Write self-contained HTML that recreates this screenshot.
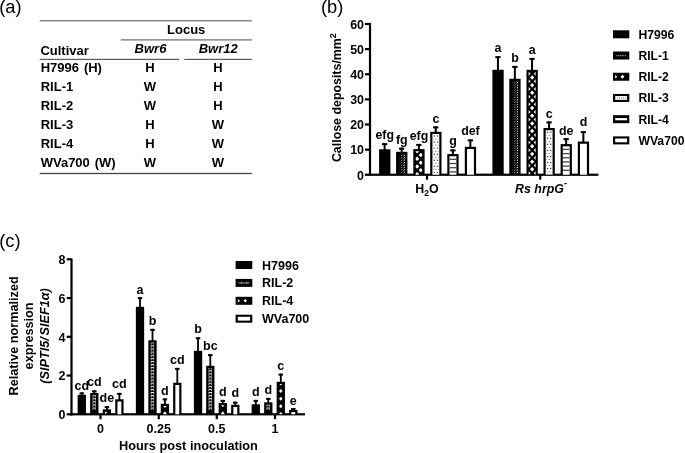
<!DOCTYPE html>
<html><head><meta charset="utf-8"><title>Figure</title>
<style>
html,body{margin:0;padding:0;background:#fff;}
body{width:685px;height:453px;overflow:hidden;font-family:"Liberation Sans",sans-serif;}
svg{display:block;will-change:transform;}
</style></head><body>
<svg width="685" height="453" viewBox="0 0 685 453">
<rect width="685" height="453" fill="#fff"/>
<g font-family='"Liberation Sans", sans-serif' fill="#000">
<text x="-0.8" y="12.6" font-size="18.3" text-anchor="start" font-weight="normal" font-style="normal" >(a)</text>
<text x="320.9" y="12.5" font-size="18.3" text-anchor="start" font-weight="normal" font-style="normal" >(b)</text>
<text x="-0.8" y="246.5" font-size="18.3" text-anchor="start" font-weight="normal" font-style="normal" >(c)</text>
<rect x="39.7" y="20.20" width="212.10" height="1.2" fill="#6a6a6a"/>
<rect x="120.8" y="39.30" width="131.00" height="1.2" fill="#6a6a6a"/>
<rect x="39.7" y="58.80" width="139.50" height="1.2" fill="#5a5a5a"/>
<rect x="184.3" y="58.80" width="67.50" height="1.2" fill="#5a5a5a"/>
<rect x="39.7" y="172.85" width="212.10" height="1.3" fill="#444"/>
<text x="186.2" y="34" font-size="13" text-anchor="middle" font-weight="bold" font-style="normal" >Locus</text>
<text x="40.4" y="55.0" font-size="13" text-anchor="start" font-weight="bold" font-style="normal" >Cultivar</text>
<text x="150.5" y="53.3" font-size="13" text-anchor="middle" font-weight="bold" font-style="italic" >Bwr6</text>
<text x="218.2" y="53.3" font-size="13" text-anchor="middle" font-weight="bold" font-style="italic" >Bwr12</text>
<text x="40.7" y="71.9" font-size="13" text-anchor="start" font-weight="bold" font-style="normal" style="word-spacing:1.3px">H7996 (H)</text>
<text x="150" y="71.9" font-size="13" text-anchor="middle" font-weight="bold" font-style="normal" >H</text>
<text x="218" y="71.9" font-size="13" text-anchor="middle" font-weight="bold" font-style="normal" >H</text>
<text x="40.7" y="91.0" font-size="13" text-anchor="start" font-weight="bold" font-style="normal" style="word-spacing:1.3px">RIL-1</text>
<text x="150" y="91.0" font-size="13" text-anchor="middle" font-weight="bold" font-style="normal" >W</text>
<text x="218" y="91.0" font-size="13" text-anchor="middle" font-weight="bold" font-style="normal" >H</text>
<text x="40.7" y="110.1" font-size="13" text-anchor="start" font-weight="bold" font-style="normal" style="word-spacing:1.3px">RIL-2</text>
<text x="150" y="110.1" font-size="13" text-anchor="middle" font-weight="bold" font-style="normal" >W</text>
<text x="218" y="110.1" font-size="13" text-anchor="middle" font-weight="bold" font-style="normal" >H</text>
<text x="40.7" y="129.1" font-size="13" text-anchor="start" font-weight="bold" font-style="normal" style="word-spacing:1.3px">RIL-3</text>
<text x="150" y="129.1" font-size="13" text-anchor="middle" font-weight="bold" font-style="normal" >H</text>
<text x="218" y="129.1" font-size="13" text-anchor="middle" font-weight="bold" font-style="normal" >W</text>
<text x="40.7" y="148.2" font-size="13" text-anchor="start" font-weight="bold" font-style="normal" style="word-spacing:1.3px">RIL-4</text>
<text x="150" y="148.2" font-size="13" text-anchor="middle" font-weight="bold" font-style="normal" >H</text>
<text x="218" y="148.2" font-size="13" text-anchor="middle" font-weight="bold" font-style="normal" >W</text>
<text x="40.7" y="167.4" font-size="13" text-anchor="start" font-weight="bold" font-style="normal" style="word-spacing:1.3px">WVa700 (W)</text>
<text x="150" y="167.4" font-size="13" text-anchor="middle" font-weight="bold" font-style="normal" >W</text>
<text x="218" y="167.4" font-size="13" text-anchor="middle" font-weight="bold" font-style="normal" >W</text>
<rect x="368.9" y="22.9" width="2.2" height="152.95" fill="#000"/>
<rect x="368.9" y="173.65" width="229.50" height="2.2" fill="#000"/>
<rect x="364.9" y="173.65" width="5" height="2.2" fill="#000"/>
<text x="364.0" y="179.55" font-size="12.4" text-anchor="end" font-weight="bold" font-style="normal" >0</text>
<rect x="364.9" y="148.53" width="5" height="2.2" fill="#000"/>
<text x="364.0" y="154.43" font-size="12.4" text-anchor="end" font-weight="bold" font-style="normal" >10</text>
<rect x="364.9" y="123.40" width="5" height="2.2" fill="#000"/>
<text x="364.0" y="129.30" font-size="12.4" text-anchor="end" font-weight="bold" font-style="normal" >20</text>
<rect x="364.9" y="98.28" width="5" height="2.2" fill="#000"/>
<text x="364.0" y="104.17" font-size="12.4" text-anchor="end" font-weight="bold" font-style="normal" >30</text>
<rect x="364.9" y="73.15" width="5" height="2.2" fill="#000"/>
<text x="364.0" y="79.05" font-size="12.4" text-anchor="end" font-weight="bold" font-style="normal" >40</text>
<rect x="364.9" y="48.02" width="5" height="2.2" fill="#000"/>
<text x="364.0" y="53.92" font-size="12.4" text-anchor="end" font-weight="bold" font-style="normal" >50</text>
<rect x="364.9" y="22.90" width="5" height="2.2" fill="#000"/>
<text x="364.0" y="28.80" font-size="12.4" text-anchor="end" font-weight="bold" font-style="normal" >60</text>
<rect x="425.9" y="174.75" width="2.2" height="4.9" fill="#000"/>
<rect x="539.15" y="174.75" width="2.2" height="4.9" fill="#000"/>
<text x="427" y="193" font-size="12.4" text-anchor="middle" font-weight="bold" font-style="normal" >H<tspan font-size="8.5" dy="2.6">2</tspan><tspan dy="-2.6">O</tspan></text>
<text x="541" y="192.6" font-size="12.4" text-anchor="middle" font-weight="bold" font-style="italic" >Rs hrpG<tspan font-size="9" dy="-6.6">-</tspan></text>
<text transform="translate(340.7,97.6) rotate(-90)" font-size="12.4" font-weight="bold" text-anchor="middle">Callose deposits/mm<tspan font-size="9" dy="-4.6">2</tspan></text>
<rect x="383.65" y="143.15" width="2.0" height="7.15" fill="#000"/>
<rect x="382.00" y="143.15" width="5.3" height="2.0" fill="#000"/>
<rect x="379.10" y="149.30" width="11.30" height="25.45" fill="#000"/>
<text x="384.75" y="139.2" font-size="12.4" text-anchor="middle" font-weight="bold" font-style="normal" >efg</text>
<rect x="400.65" y="147.65" width="2.0" height="5.15" fill="#000"/>
<rect x="399.00" y="147.65" width="5.3" height="2.0" fill="#000"/>
<rect x="396.10" y="151.80" width="11.30" height="22.95" fill="#000"/>
<clipPath id="c1"><rect x="398.30" y="154.00" width="6.90" height="20.75"/></clipPath>
<g clip-path="url(#c1)">
<path d="M398.40 172.90 L399.90 171.80" stroke="#555" stroke-width="0.5" fill="none"/>
<path d="M400.90 172.90 L402.40 171.80" stroke="#bbb" stroke-width="0.75" fill="none"/>
<path d="M403.55 172.90 L405.05 171.80" stroke="#fff" stroke-width="0.95" fill="none"/>
<path d="M398.40 170.48 L399.90 169.38" stroke="#555" stroke-width="0.5" fill="none"/>
<path d="M400.90 170.48 L402.40 169.38" stroke="#bbb" stroke-width="0.75" fill="none"/>
<path d="M403.55 170.48 L405.05 169.38" stroke="#fff" stroke-width="0.95" fill="none"/>
<path d="M398.40 168.06 L399.90 166.96" stroke="#555" stroke-width="0.5" fill="none"/>
<path d="M400.90 168.06 L402.40 166.96" stroke="#bbb" stroke-width="0.75" fill="none"/>
<path d="M403.55 168.06 L405.05 166.96" stroke="#fff" stroke-width="0.95" fill="none"/>
<path d="M398.40 165.64 L399.90 164.54" stroke="#555" stroke-width="0.5" fill="none"/>
<path d="M400.90 165.64 L402.40 164.54" stroke="#bbb" stroke-width="0.75" fill="none"/>
<path d="M403.55 165.64 L405.05 164.54" stroke="#fff" stroke-width="0.95" fill="none"/>
<path d="M398.40 163.22 L399.90 162.12" stroke="#555" stroke-width="0.5" fill="none"/>
<path d="M400.90 163.22 L402.40 162.12" stroke="#bbb" stroke-width="0.75" fill="none"/>
<path d="M403.55 163.22 L405.05 162.12" stroke="#fff" stroke-width="0.95" fill="none"/>
<path d="M398.40 160.80 L399.90 159.70" stroke="#555" stroke-width="0.5" fill="none"/>
<path d="M400.90 160.80 L402.40 159.70" stroke="#bbb" stroke-width="0.75" fill="none"/>
<path d="M403.55 160.80 L405.05 159.70" stroke="#fff" stroke-width="0.95" fill="none"/>
<path d="M398.40 158.38 L399.90 157.28" stroke="#555" stroke-width="0.5" fill="none"/>
<path d="M400.90 158.38 L402.40 157.28" stroke="#bbb" stroke-width="0.75" fill="none"/>
<path d="M403.55 158.38 L405.05 157.28" stroke="#fff" stroke-width="0.95" fill="none"/>
<path d="M398.40 155.96 L399.90 154.86" stroke="#555" stroke-width="0.5" fill="none"/>
<path d="M400.90 155.96 L402.40 154.86" stroke="#bbb" stroke-width="0.75" fill="none"/>
<path d="M403.55 155.96 L405.05 154.86" stroke="#fff" stroke-width="0.95" fill="none"/>
<path d="M398.40 153.54 L399.90 152.44" stroke="#555" stroke-width="0.5" fill="none"/>
<path d="M400.90 153.54 L402.40 152.44" stroke="#bbb" stroke-width="0.75" fill="none"/>
<path d="M403.55 153.54 L405.05 152.44" stroke="#fff" stroke-width="0.95" fill="none"/>
</g>
<text x="401.75" y="143.8" font-size="12.4" text-anchor="middle" font-weight="bold" font-style="normal" >fg</text>
<rect x="417.85" y="143.90" width="2.0" height="6.20" fill="#000"/>
<rect x="416.20" y="143.90" width="5.3" height="2.0" fill="#000"/>
<rect x="413.30" y="149.10" width="11.30" height="25.65" fill="#000"/>
<clipPath id="c2"><rect x="415.50" y="151.30" width="6.90" height="23.45"/></clipPath>
<g clip-path="url(#c2)">
<path d="M417.10 148.95 L419.25 151.20 L417.10 153.45 L414.95 151.20Z" fill="#fff"/>
<path d="M420.80 152.77 L422.95 155.02 L420.80 157.27 L418.65 155.02Z" fill="#fff"/>
<path d="M417.10 156.60 L419.25 158.85 L417.10 161.10 L414.95 158.85Z" fill="#fff"/>
<path d="M420.80 160.42 L422.95 162.67 L420.80 164.92 L418.65 162.67Z" fill="#fff"/>
<path d="M417.10 164.25 L419.25 166.50 L417.10 168.75 L414.95 166.50Z" fill="#fff"/>
<path d="M420.80 168.07 L422.95 170.32 L420.80 172.57 L418.65 170.32Z" fill="#fff"/>
<path d="M417.10 171.90 L419.25 174.15 L417.10 176.40 L414.95 174.15Z" fill="#fff"/>
<path d="M420.80 175.72 L422.95 177.97 L420.80 180.22 L418.65 177.97Z" fill="#fff"/>
</g>
<text x="418.95" y="139.9" font-size="12.4" text-anchor="middle" font-weight="bold" font-style="normal" >efg</text>
<rect x="434.75" y="126.40" width="2.0" height="6.40" fill="#000"/>
<rect x="433.10" y="126.40" width="5.3" height="2.0" fill="#000"/>
<rect x="430.20" y="131.80" width="11.30" height="42.95" fill="#000"/>
<rect x="432.40" y="134.00" width="6.90" height="40.75" fill="#fff"/>
<clipPath id="c3"><rect x="432.40" y="134.00" width="6.90" height="40.75"/></clipPath>
<g clip-path="url(#c3)">
<circle cx="434.25" cy="136.00" r="0.7" fill="#333"/>
<circle cx="437.45" cy="136.00" r="0.7" fill="#333"/>
<circle cx="432.70" cy="139.03" r="0.6" fill="#6a6a6a"/>
<circle cx="435.85" cy="139.03" r="0.6" fill="#6a6a6a"/>
<circle cx="439.00" cy="139.03" r="0.6" fill="#6a6a6a"/>
<circle cx="434.25" cy="142.06" r="0.7" fill="#333"/>
<circle cx="437.45" cy="142.06" r="0.7" fill="#333"/>
<circle cx="432.70" cy="145.09" r="0.6" fill="#6a6a6a"/>
<circle cx="435.85" cy="145.09" r="0.6" fill="#6a6a6a"/>
<circle cx="439.00" cy="145.09" r="0.6" fill="#6a6a6a"/>
<circle cx="434.25" cy="148.12" r="0.7" fill="#333"/>
<circle cx="437.45" cy="148.12" r="0.7" fill="#333"/>
<circle cx="432.70" cy="151.15" r="0.6" fill="#6a6a6a"/>
<circle cx="435.85" cy="151.15" r="0.6" fill="#6a6a6a"/>
<circle cx="439.00" cy="151.15" r="0.6" fill="#6a6a6a"/>
<circle cx="434.25" cy="154.18" r="0.7" fill="#333"/>
<circle cx="437.45" cy="154.18" r="0.7" fill="#333"/>
<circle cx="432.70" cy="157.21" r="0.6" fill="#6a6a6a"/>
<circle cx="435.85" cy="157.21" r="0.6" fill="#6a6a6a"/>
<circle cx="439.00" cy="157.21" r="0.6" fill="#6a6a6a"/>
<circle cx="434.25" cy="160.24" r="0.7" fill="#333"/>
<circle cx="437.45" cy="160.24" r="0.7" fill="#333"/>
<circle cx="432.70" cy="163.27" r="0.6" fill="#6a6a6a"/>
<circle cx="435.85" cy="163.27" r="0.6" fill="#6a6a6a"/>
<circle cx="439.00" cy="163.27" r="0.6" fill="#6a6a6a"/>
<circle cx="434.25" cy="166.30" r="0.7" fill="#333"/>
<circle cx="437.45" cy="166.30" r="0.7" fill="#333"/>
<circle cx="432.70" cy="169.33" r="0.6" fill="#6a6a6a"/>
<circle cx="435.85" cy="169.33" r="0.6" fill="#6a6a6a"/>
<circle cx="439.00" cy="169.33" r="0.6" fill="#6a6a6a"/>
<circle cx="434.25" cy="172.36" r="0.7" fill="#333"/>
<circle cx="437.45" cy="172.36" r="0.7" fill="#333"/>
<circle cx="432.70" cy="175.39" r="0.6" fill="#6a6a6a"/>
<circle cx="435.85" cy="175.39" r="0.6" fill="#6a6a6a"/>
<circle cx="439.00" cy="175.39" r="0.6" fill="#6a6a6a"/>
</g>
<text x="435.84999999999997" y="122.8" font-size="12.4" text-anchor="middle" font-weight="bold" font-style="normal" >c</text>
<rect x="451.85" y="149.40" width="2.0" height="5.65" fill="#000"/>
<rect x="450.20" y="149.40" width="5.3" height="2.0" fill="#000"/>
<rect x="447.30" y="154.05" width="11.30" height="20.70" fill="#000"/>
<rect x="449.50" y="156.25" width="6.90" height="18.50" fill="#fff"/>
<clipPath id="c4"><rect x="449.50" y="156.25" width="6.90" height="18.50"/></clipPath>
<g clip-path="url(#c4)">
<rect x="449.50" y="158.70" width="6.90" height="1.3" fill="#484848"/>
<rect x="449.50" y="162.88" width="6.90" height="1.3" fill="#484848"/>
<rect x="449.50" y="167.06" width="6.90" height="1.3" fill="#484848"/>
<rect x="449.50" y="171.24" width="6.90" height="1.3" fill="#484848"/>
</g>
<text x="452.95" y="145" font-size="12.4" text-anchor="middle" font-weight="bold" font-style="normal" >g</text>
<rect x="469.35" y="139.40" width="2.0" height="8.40" fill="#000"/>
<rect x="467.70" y="139.40" width="5.3" height="2.0" fill="#000"/>
<rect x="464.80" y="146.80" width="11.30" height="27.95" fill="#000"/>
<rect x="467.00" y="149.00" width="6.90" height="25.75" fill="#fff"/>
<text x="470.45" y="135" font-size="12.4" text-anchor="middle" font-weight="bold" font-style="normal" >def</text>
<rect x="496.95" y="56.15" width="2.0" height="14.65" fill="#000"/>
<rect x="495.30" y="56.15" width="5.3" height="2.0" fill="#000"/>
<rect x="492.40" y="69.80" width="11.30" height="104.95" fill="#000"/>
<text x="498.04999999999995" y="51.9" font-size="12.4" text-anchor="middle" font-weight="bold" font-style="normal" >a</text>
<rect x="513.85" y="65.90" width="2.0" height="13.90" fill="#000"/>
<rect x="512.20" y="65.90" width="5.3" height="2.0" fill="#000"/>
<rect x="509.30" y="78.80" width="11.30" height="95.95" fill="#000"/>
<clipPath id="c5"><rect x="511.50" y="81.00" width="6.90" height="93.75"/></clipPath>
<g clip-path="url(#c5)">
<path d="M511.60 172.90 L513.10 171.80" stroke="#555" stroke-width="0.5" fill="none"/>
<path d="M514.10 172.90 L515.60 171.80" stroke="#bbb" stroke-width="0.75" fill="none"/>
<path d="M516.75 172.90 L518.25 171.80" stroke="#fff" stroke-width="0.95" fill="none"/>
<path d="M511.60 170.48 L513.10 169.38" stroke="#555" stroke-width="0.5" fill="none"/>
<path d="M514.10 170.48 L515.60 169.38" stroke="#bbb" stroke-width="0.75" fill="none"/>
<path d="M516.75 170.48 L518.25 169.38" stroke="#fff" stroke-width="0.95" fill="none"/>
<path d="M511.60 168.06 L513.10 166.96" stroke="#555" stroke-width="0.5" fill="none"/>
<path d="M514.10 168.06 L515.60 166.96" stroke="#bbb" stroke-width="0.75" fill="none"/>
<path d="M516.75 168.06 L518.25 166.96" stroke="#fff" stroke-width="0.95" fill="none"/>
<path d="M511.60 165.64 L513.10 164.54" stroke="#555" stroke-width="0.5" fill="none"/>
<path d="M514.10 165.64 L515.60 164.54" stroke="#bbb" stroke-width="0.75" fill="none"/>
<path d="M516.75 165.64 L518.25 164.54" stroke="#fff" stroke-width="0.95" fill="none"/>
<path d="M511.60 163.22 L513.10 162.12" stroke="#555" stroke-width="0.5" fill="none"/>
<path d="M514.10 163.22 L515.60 162.12" stroke="#bbb" stroke-width="0.75" fill="none"/>
<path d="M516.75 163.22 L518.25 162.12" stroke="#fff" stroke-width="0.95" fill="none"/>
<path d="M511.60 160.80 L513.10 159.70" stroke="#555" stroke-width="0.5" fill="none"/>
<path d="M514.10 160.80 L515.60 159.70" stroke="#bbb" stroke-width="0.75" fill="none"/>
<path d="M516.75 160.80 L518.25 159.70" stroke="#fff" stroke-width="0.95" fill="none"/>
<path d="M511.60 158.38 L513.10 157.28" stroke="#555" stroke-width="0.5" fill="none"/>
<path d="M514.10 158.38 L515.60 157.28" stroke="#bbb" stroke-width="0.75" fill="none"/>
<path d="M516.75 158.38 L518.25 157.28" stroke="#fff" stroke-width="0.95" fill="none"/>
<path d="M511.60 155.96 L513.10 154.86" stroke="#555" stroke-width="0.5" fill="none"/>
<path d="M514.10 155.96 L515.60 154.86" stroke="#bbb" stroke-width="0.75" fill="none"/>
<path d="M516.75 155.96 L518.25 154.86" stroke="#fff" stroke-width="0.95" fill="none"/>
<path d="M511.60 153.54 L513.10 152.44" stroke="#555" stroke-width="0.5" fill="none"/>
<path d="M514.10 153.54 L515.60 152.44" stroke="#bbb" stroke-width="0.75" fill="none"/>
<path d="M516.75 153.54 L518.25 152.44" stroke="#fff" stroke-width="0.95" fill="none"/>
<path d="M511.60 151.12 L513.10 150.02" stroke="#555" stroke-width="0.5" fill="none"/>
<path d="M514.10 151.12 L515.60 150.02" stroke="#bbb" stroke-width="0.75" fill="none"/>
<path d="M516.75 151.12 L518.25 150.02" stroke="#fff" stroke-width="0.95" fill="none"/>
<path d="M511.60 148.70 L513.10 147.60" stroke="#555" stroke-width="0.5" fill="none"/>
<path d="M514.10 148.70 L515.60 147.60" stroke="#bbb" stroke-width="0.75" fill="none"/>
<path d="M516.75 148.70 L518.25 147.60" stroke="#fff" stroke-width="0.95" fill="none"/>
<path d="M511.60 146.28 L513.10 145.18" stroke="#555" stroke-width="0.5" fill="none"/>
<path d="M514.10 146.28 L515.60 145.18" stroke="#bbb" stroke-width="0.75" fill="none"/>
<path d="M516.75 146.28 L518.25 145.18" stroke="#fff" stroke-width="0.95" fill="none"/>
<path d="M511.60 143.86 L513.10 142.76" stroke="#555" stroke-width="0.5" fill="none"/>
<path d="M514.10 143.86 L515.60 142.76" stroke="#bbb" stroke-width="0.75" fill="none"/>
<path d="M516.75 143.86 L518.25 142.76" stroke="#fff" stroke-width="0.95" fill="none"/>
<path d="M511.60 141.44 L513.10 140.34" stroke="#555" stroke-width="0.5" fill="none"/>
<path d="M514.10 141.44 L515.60 140.34" stroke="#bbb" stroke-width="0.75" fill="none"/>
<path d="M516.75 141.44 L518.25 140.34" stroke="#fff" stroke-width="0.95" fill="none"/>
<path d="M511.60 139.02 L513.10 137.92" stroke="#555" stroke-width="0.5" fill="none"/>
<path d="M514.10 139.02 L515.60 137.92" stroke="#bbb" stroke-width="0.75" fill="none"/>
<path d="M516.75 139.02 L518.25 137.92" stroke="#fff" stroke-width="0.95" fill="none"/>
<path d="M511.60 136.60 L513.10 135.50" stroke="#555" stroke-width="0.5" fill="none"/>
<path d="M514.10 136.60 L515.60 135.50" stroke="#bbb" stroke-width="0.75" fill="none"/>
<path d="M516.75 136.60 L518.25 135.50" stroke="#fff" stroke-width="0.95" fill="none"/>
<path d="M511.60 134.18 L513.10 133.08" stroke="#555" stroke-width="0.5" fill="none"/>
<path d="M514.10 134.18 L515.60 133.08" stroke="#bbb" stroke-width="0.75" fill="none"/>
<path d="M516.75 134.18 L518.25 133.08" stroke="#fff" stroke-width="0.95" fill="none"/>
<path d="M511.60 131.76 L513.10 130.66" stroke="#555" stroke-width="0.5" fill="none"/>
<path d="M514.10 131.76 L515.60 130.66" stroke="#bbb" stroke-width="0.75" fill="none"/>
<path d="M516.75 131.76 L518.25 130.66" stroke="#fff" stroke-width="0.95" fill="none"/>
<path d="M511.60 129.34 L513.10 128.24" stroke="#555" stroke-width="0.5" fill="none"/>
<path d="M514.10 129.34 L515.60 128.24" stroke="#bbb" stroke-width="0.75" fill="none"/>
<path d="M516.75 129.34 L518.25 128.24" stroke="#fff" stroke-width="0.95" fill="none"/>
<path d="M511.60 126.92 L513.10 125.82" stroke="#555" stroke-width="0.5" fill="none"/>
<path d="M514.10 126.92 L515.60 125.82" stroke="#bbb" stroke-width="0.75" fill="none"/>
<path d="M516.75 126.92 L518.25 125.82" stroke="#fff" stroke-width="0.95" fill="none"/>
<path d="M511.60 124.50 L513.10 123.40" stroke="#555" stroke-width="0.5" fill="none"/>
<path d="M514.10 124.50 L515.60 123.40" stroke="#bbb" stroke-width="0.75" fill="none"/>
<path d="M516.75 124.50 L518.25 123.40" stroke="#fff" stroke-width="0.95" fill="none"/>
<path d="M511.60 122.08 L513.10 120.98" stroke="#555" stroke-width="0.5" fill="none"/>
<path d="M514.10 122.08 L515.60 120.98" stroke="#bbb" stroke-width="0.75" fill="none"/>
<path d="M516.75 122.08 L518.25 120.98" stroke="#fff" stroke-width="0.95" fill="none"/>
<path d="M511.60 119.66 L513.10 118.56" stroke="#555" stroke-width="0.5" fill="none"/>
<path d="M514.10 119.66 L515.60 118.56" stroke="#bbb" stroke-width="0.75" fill="none"/>
<path d="M516.75 119.66 L518.25 118.56" stroke="#fff" stroke-width="0.95" fill="none"/>
<path d="M511.60 117.24 L513.10 116.14" stroke="#555" stroke-width="0.5" fill="none"/>
<path d="M514.10 117.24 L515.60 116.14" stroke="#bbb" stroke-width="0.75" fill="none"/>
<path d="M516.75 117.24 L518.25 116.14" stroke="#fff" stroke-width="0.95" fill="none"/>
<path d="M511.60 114.82 L513.10 113.72" stroke="#555" stroke-width="0.5" fill="none"/>
<path d="M514.10 114.82 L515.60 113.72" stroke="#bbb" stroke-width="0.75" fill="none"/>
<path d="M516.75 114.82 L518.25 113.72" stroke="#fff" stroke-width="0.95" fill="none"/>
<path d="M511.60 112.40 L513.10 111.30" stroke="#555" stroke-width="0.5" fill="none"/>
<path d="M514.10 112.40 L515.60 111.30" stroke="#bbb" stroke-width="0.75" fill="none"/>
<path d="M516.75 112.40 L518.25 111.30" stroke="#fff" stroke-width="0.95" fill="none"/>
<path d="M511.60 109.98 L513.10 108.88" stroke="#555" stroke-width="0.5" fill="none"/>
<path d="M514.10 109.98 L515.60 108.88" stroke="#bbb" stroke-width="0.75" fill="none"/>
<path d="M516.75 109.98 L518.25 108.88" stroke="#fff" stroke-width="0.95" fill="none"/>
<path d="M511.60 107.56 L513.10 106.46" stroke="#555" stroke-width="0.5" fill="none"/>
<path d="M514.10 107.56 L515.60 106.46" stroke="#bbb" stroke-width="0.75" fill="none"/>
<path d="M516.75 107.56 L518.25 106.46" stroke="#fff" stroke-width="0.95" fill="none"/>
<path d="M511.60 105.14 L513.10 104.04" stroke="#555" stroke-width="0.5" fill="none"/>
<path d="M514.10 105.14 L515.60 104.04" stroke="#bbb" stroke-width="0.75" fill="none"/>
<path d="M516.75 105.14 L518.25 104.04" stroke="#fff" stroke-width="0.95" fill="none"/>
<path d="M511.60 102.72 L513.10 101.62" stroke="#555" stroke-width="0.5" fill="none"/>
<path d="M514.10 102.72 L515.60 101.62" stroke="#bbb" stroke-width="0.75" fill="none"/>
<path d="M516.75 102.72 L518.25 101.62" stroke="#fff" stroke-width="0.95" fill="none"/>
<path d="M511.60 100.30 L513.10 99.20" stroke="#555" stroke-width="0.5" fill="none"/>
<path d="M514.10 100.30 L515.60 99.20" stroke="#bbb" stroke-width="0.75" fill="none"/>
<path d="M516.75 100.30 L518.25 99.20" stroke="#fff" stroke-width="0.95" fill="none"/>
<path d="M511.60 97.88 L513.10 96.78" stroke="#555" stroke-width="0.5" fill="none"/>
<path d="M514.10 97.88 L515.60 96.78" stroke="#bbb" stroke-width="0.75" fill="none"/>
<path d="M516.75 97.88 L518.25 96.78" stroke="#fff" stroke-width="0.95" fill="none"/>
<path d="M511.60 95.46 L513.10 94.36" stroke="#555" stroke-width="0.5" fill="none"/>
<path d="M514.10 95.46 L515.60 94.36" stroke="#bbb" stroke-width="0.75" fill="none"/>
<path d="M516.75 95.46 L518.25 94.36" stroke="#fff" stroke-width="0.95" fill="none"/>
<path d="M511.60 93.04 L513.10 91.94" stroke="#555" stroke-width="0.5" fill="none"/>
<path d="M514.10 93.04 L515.60 91.94" stroke="#bbb" stroke-width="0.75" fill="none"/>
<path d="M516.75 93.04 L518.25 91.94" stroke="#fff" stroke-width="0.95" fill="none"/>
<path d="M511.60 90.62 L513.10 89.52" stroke="#555" stroke-width="0.5" fill="none"/>
<path d="M514.10 90.62 L515.60 89.52" stroke="#bbb" stroke-width="0.75" fill="none"/>
<path d="M516.75 90.62 L518.25 89.52" stroke="#fff" stroke-width="0.95" fill="none"/>
<path d="M511.60 88.20 L513.10 87.10" stroke="#555" stroke-width="0.5" fill="none"/>
<path d="M514.10 88.20 L515.60 87.10" stroke="#bbb" stroke-width="0.75" fill="none"/>
<path d="M516.75 88.20 L518.25 87.10" stroke="#fff" stroke-width="0.95" fill="none"/>
<path d="M511.60 85.78 L513.10 84.68" stroke="#555" stroke-width="0.5" fill="none"/>
<path d="M514.10 85.78 L515.60 84.68" stroke="#bbb" stroke-width="0.75" fill="none"/>
<path d="M516.75 85.78 L518.25 84.68" stroke="#fff" stroke-width="0.95" fill="none"/>
<path d="M511.60 83.36 L513.10 82.26" stroke="#555" stroke-width="0.5" fill="none"/>
<path d="M514.10 83.36 L515.60 82.26" stroke="#bbb" stroke-width="0.75" fill="none"/>
<path d="M516.75 83.36 L518.25 82.26" stroke="#fff" stroke-width="0.95" fill="none"/>
<path d="M511.60 80.94 L513.10 79.84" stroke="#555" stroke-width="0.5" fill="none"/>
<path d="M514.10 80.94 L515.60 79.84" stroke="#bbb" stroke-width="0.75" fill="none"/>
<path d="M516.75 80.94 L518.25 79.84" stroke="#fff" stroke-width="0.95" fill="none"/>
</g>
<text x="514.95" y="61.75" font-size="12.4" text-anchor="middle" font-weight="bold" font-style="normal" >b</text>
<rect x="531.05" y="57.90" width="2.0" height="12.90" fill="#000"/>
<rect x="529.40" y="57.90" width="5.3" height="2.0" fill="#000"/>
<rect x="526.50" y="69.80" width="11.30" height="104.95" fill="#000"/>
<clipPath id="c6"><rect x="528.70" y="72.00" width="6.90" height="102.75"/></clipPath>
<g clip-path="url(#c6)">
<path d="M532.15 75.25 L534.30 77.50 L532.15 79.75 L530.00 77.50Z" fill="#fff"/>
<path d="M528.43 71.43 L530.58 73.68 L528.43 75.93 L526.28 73.68Z" fill="#fff"/>
<path d="M535.87 71.43 L538.02 73.68 L535.87 75.93 L533.72 73.68Z" fill="#fff"/>
<path d="M532.15 82.90 L534.30 85.15 L532.15 87.40 L530.00 85.15Z" fill="#fff"/>
<path d="M528.43 79.08 L530.58 81.33 L528.43 83.58 L526.28 81.33Z" fill="#fff"/>
<path d="M535.87 79.08 L538.02 81.33 L535.87 83.58 L533.72 81.33Z" fill="#fff"/>
<path d="M532.15 90.55 L534.30 92.80 L532.15 95.05 L530.00 92.80Z" fill="#fff"/>
<path d="M528.43 86.73 L530.58 88.98 L528.43 91.23 L526.28 88.98Z" fill="#fff"/>
<path d="M535.87 86.73 L538.02 88.98 L535.87 91.23 L533.72 88.98Z" fill="#fff"/>
<path d="M532.15 98.20 L534.30 100.45 L532.15 102.70 L530.00 100.45Z" fill="#fff"/>
<path d="M528.43 94.38 L530.58 96.63 L528.43 98.88 L526.28 96.63Z" fill="#fff"/>
<path d="M535.87 94.38 L538.02 96.63 L535.87 98.88 L533.72 96.63Z" fill="#fff"/>
<path d="M532.15 105.85 L534.30 108.10 L532.15 110.35 L530.00 108.10Z" fill="#fff"/>
<path d="M528.43 102.03 L530.58 104.28 L528.43 106.53 L526.28 104.28Z" fill="#fff"/>
<path d="M535.87 102.03 L538.02 104.28 L535.87 106.53 L533.72 104.28Z" fill="#fff"/>
<path d="M532.15 113.50 L534.30 115.75 L532.15 118.00 L530.00 115.75Z" fill="#fff"/>
<path d="M528.43 109.68 L530.58 111.93 L528.43 114.18 L526.28 111.93Z" fill="#fff"/>
<path d="M535.87 109.68 L538.02 111.93 L535.87 114.18 L533.72 111.93Z" fill="#fff"/>
<path d="M532.15 121.15 L534.30 123.40 L532.15 125.65 L530.00 123.40Z" fill="#fff"/>
<path d="M528.43 117.33 L530.58 119.58 L528.43 121.83 L526.28 119.58Z" fill="#fff"/>
<path d="M535.87 117.33 L538.02 119.58 L535.87 121.83 L533.72 119.58Z" fill="#fff"/>
<path d="M532.15 128.80 L534.30 131.05 L532.15 133.30 L530.00 131.05Z" fill="#fff"/>
<path d="M528.43 124.98 L530.58 127.23 L528.43 129.48 L526.28 127.23Z" fill="#fff"/>
<path d="M535.87 124.98 L538.02 127.23 L535.87 129.48 L533.72 127.23Z" fill="#fff"/>
<path d="M532.15 136.45 L534.30 138.70 L532.15 140.95 L530.00 138.70Z" fill="#fff"/>
<path d="M528.43 132.63 L530.58 134.88 L528.43 137.13 L526.28 134.88Z" fill="#fff"/>
<path d="M535.87 132.63 L538.02 134.88 L535.87 137.13 L533.72 134.88Z" fill="#fff"/>
<path d="M532.15 144.10 L534.30 146.35 L532.15 148.60 L530.00 146.35Z" fill="#fff"/>
<path d="M528.43 140.28 L530.58 142.53 L528.43 144.78 L526.28 142.53Z" fill="#fff"/>
<path d="M535.87 140.28 L538.02 142.53 L535.87 144.78 L533.72 142.53Z" fill="#fff"/>
<path d="M532.15 151.75 L534.30 154.00 L532.15 156.25 L530.00 154.00Z" fill="#fff"/>
<path d="M528.43 147.93 L530.58 150.18 L528.43 152.43 L526.28 150.18Z" fill="#fff"/>
<path d="M535.87 147.93 L538.02 150.18 L535.87 152.43 L533.72 150.18Z" fill="#fff"/>
<path d="M532.15 159.40 L534.30 161.65 L532.15 163.90 L530.00 161.65Z" fill="#fff"/>
<path d="M528.43 155.58 L530.58 157.83 L528.43 160.08 L526.28 157.83Z" fill="#fff"/>
<path d="M535.87 155.58 L538.02 157.83 L535.87 160.08 L533.72 157.83Z" fill="#fff"/>
<path d="M532.15 167.05 L534.30 169.30 L532.15 171.55 L530.00 169.30Z" fill="#fff"/>
<path d="M528.43 163.23 L530.58 165.48 L528.43 167.73 L526.28 165.48Z" fill="#fff"/>
<path d="M535.87 163.23 L538.02 165.48 L535.87 167.73 L533.72 165.48Z" fill="#fff"/>
<path d="M532.15 174.70 L534.30 176.95 L532.15 179.20 L530.00 176.95Z" fill="#fff"/>
<path d="M528.43 170.88 L530.58 173.13 L528.43 175.38 L526.28 173.13Z" fill="#fff"/>
<path d="M535.87 170.88 L538.02 173.13 L535.87 175.38 L533.72 173.13Z" fill="#fff"/>
</g>
<text x="532.15" y="53.75" font-size="12.4" text-anchor="middle" font-weight="bold" font-style="normal" >a</text>
<rect x="548.05" y="121.40" width="2.0" height="7.60" fill="#000"/>
<rect x="546.40" y="121.40" width="5.3" height="2.0" fill="#000"/>
<rect x="543.50" y="128.00" width="11.30" height="46.75" fill="#000"/>
<rect x="545.70" y="130.20" width="6.90" height="44.55" fill="#fff"/>
<clipPath id="c7"><rect x="545.70" y="130.20" width="6.90" height="44.55"/></clipPath>
<g clip-path="url(#c7)">
<circle cx="547.55" cy="132.20" r="0.7" fill="#333"/>
<circle cx="550.75" cy="132.20" r="0.7" fill="#333"/>
<circle cx="546.00" cy="135.23" r="0.6" fill="#6a6a6a"/>
<circle cx="549.15" cy="135.23" r="0.6" fill="#6a6a6a"/>
<circle cx="552.30" cy="135.23" r="0.6" fill="#6a6a6a"/>
<circle cx="547.55" cy="138.26" r="0.7" fill="#333"/>
<circle cx="550.75" cy="138.26" r="0.7" fill="#333"/>
<circle cx="546.00" cy="141.29" r="0.6" fill="#6a6a6a"/>
<circle cx="549.15" cy="141.29" r="0.6" fill="#6a6a6a"/>
<circle cx="552.30" cy="141.29" r="0.6" fill="#6a6a6a"/>
<circle cx="547.55" cy="144.32" r="0.7" fill="#333"/>
<circle cx="550.75" cy="144.32" r="0.7" fill="#333"/>
<circle cx="546.00" cy="147.35" r="0.6" fill="#6a6a6a"/>
<circle cx="549.15" cy="147.35" r="0.6" fill="#6a6a6a"/>
<circle cx="552.30" cy="147.35" r="0.6" fill="#6a6a6a"/>
<circle cx="547.55" cy="150.38" r="0.7" fill="#333"/>
<circle cx="550.75" cy="150.38" r="0.7" fill="#333"/>
<circle cx="546.00" cy="153.41" r="0.6" fill="#6a6a6a"/>
<circle cx="549.15" cy="153.41" r="0.6" fill="#6a6a6a"/>
<circle cx="552.30" cy="153.41" r="0.6" fill="#6a6a6a"/>
<circle cx="547.55" cy="156.44" r="0.7" fill="#333"/>
<circle cx="550.75" cy="156.44" r="0.7" fill="#333"/>
<circle cx="546.00" cy="159.47" r="0.6" fill="#6a6a6a"/>
<circle cx="549.15" cy="159.47" r="0.6" fill="#6a6a6a"/>
<circle cx="552.30" cy="159.47" r="0.6" fill="#6a6a6a"/>
<circle cx="547.55" cy="162.50" r="0.7" fill="#333"/>
<circle cx="550.75" cy="162.50" r="0.7" fill="#333"/>
<circle cx="546.00" cy="165.53" r="0.6" fill="#6a6a6a"/>
<circle cx="549.15" cy="165.53" r="0.6" fill="#6a6a6a"/>
<circle cx="552.30" cy="165.53" r="0.6" fill="#6a6a6a"/>
<circle cx="547.55" cy="168.56" r="0.7" fill="#333"/>
<circle cx="550.75" cy="168.56" r="0.7" fill="#333"/>
<circle cx="546.00" cy="171.59" r="0.6" fill="#6a6a6a"/>
<circle cx="549.15" cy="171.59" r="0.6" fill="#6a6a6a"/>
<circle cx="552.30" cy="171.59" r="0.6" fill="#6a6a6a"/>
<circle cx="547.55" cy="174.62" r="0.7" fill="#333"/>
<circle cx="550.75" cy="174.62" r="0.7" fill="#333"/>
<circle cx="546.00" cy="177.65" r="0.6" fill="#6a6a6a"/>
<circle cx="549.15" cy="177.65" r="0.6" fill="#6a6a6a"/>
<circle cx="552.30" cy="177.65" r="0.6" fill="#6a6a6a"/>
</g>
<text x="549.15" y="117.8" font-size="12.4" text-anchor="middle" font-weight="bold" font-style="normal" >c</text>
<rect x="565.15" y="138.15" width="2.0" height="6.95" fill="#000"/>
<rect x="563.50" y="138.15" width="5.3" height="2.0" fill="#000"/>
<rect x="560.60" y="144.10" width="11.30" height="30.65" fill="#000"/>
<rect x="562.80" y="146.30" width="6.90" height="28.45" fill="#fff"/>
<clipPath id="c8"><rect x="562.80" y="146.30" width="6.90" height="28.45"/></clipPath>
<g clip-path="url(#c8)">
<rect x="562.80" y="148.75" width="6.90" height="1.3" fill="#484848"/>
<rect x="562.80" y="152.93" width="6.90" height="1.3" fill="#484848"/>
<rect x="562.80" y="157.11" width="6.90" height="1.3" fill="#484848"/>
<rect x="562.80" y="161.29" width="6.90" height="1.3" fill="#484848"/>
<rect x="562.80" y="165.47" width="6.90" height="1.3" fill="#484848"/>
<rect x="562.80" y="169.65" width="6.90" height="1.3" fill="#484848"/>
</g>
<text x="566.25" y="135" font-size="12.4" text-anchor="middle" font-weight="bold" font-style="normal" >de</text>
<rect x="582.35" y="131.15" width="2.0" height="11.40" fill="#000"/>
<rect x="580.70" y="131.15" width="5.3" height="2.0" fill="#000"/>
<rect x="577.80" y="141.55" width="11.30" height="33.20" fill="#000"/>
<rect x="580.00" y="143.75" width="6.90" height="31.00" fill="#fff"/>
<text x="583.4499999999999" y="126" font-size="12.4" text-anchor="middle" font-weight="bold" font-style="normal" >d</text>
<rect x="613.0" y="30.30" width="16.30" height="8" fill="#000"/>
<text x="638.4" y="38.80" font-size="12.2" text-anchor="start" font-weight="bold" font-style="normal" >H7996</text>
<rect x="613.0" y="51.52" width="16.30" height="8" fill="#000"/>
<rect x="616.50" y="54.92" width="0.9" height="1.3" fill="#aaa"/>
<rect x="618.20" y="54.92" width="0.9" height="1.3" fill="#aaa"/>
<rect x="619.90" y="54.92" width="0.9" height="1.3" fill="#aaa"/>
<rect x="621.60" y="54.92" width="0.9" height="1.3" fill="#aaa"/>
<rect x="623.30" y="54.92" width="0.9" height="1.3" fill="#aaa"/>
<rect x="625.00" y="54.92" width="0.9" height="1.3" fill="#aaa"/>
<text x="638.4" y="60.02" font-size="12.2" text-anchor="start" font-weight="bold" font-style="normal" >RIL-1</text>
<rect x="613.0" y="72.74" width="16.30" height="8" fill="#000"/>
<path d="M622.50 74.84 L624.40 76.74 L622.50 78.64 L620.60 76.74Z" fill="#fff"/>
<path d="M615.2 74.94 L617.3 76.74 L615.2 78.54Z" fill="#fff"/>
<text x="638.4" y="81.24" font-size="12.2" text-anchor="start" font-weight="bold" font-style="normal" >RIL-2</text>
<rect x="613.0" y="93.96" width="16.30" height="8" fill="#000"/>
<rect x="615.2" y="96.06" width="11.90" height="3.80" fill="#fff"/>
<rect x="617.20" y="97.46" width="0.9" height="1" fill="#666"/>
<rect x="619.20" y="97.46" width="0.9" height="1" fill="#666"/>
<rect x="621.20" y="97.46" width="0.9" height="1" fill="#666"/>
<rect x="623.20" y="97.46" width="0.9" height="1" fill="#666"/>
<rect x="625.20" y="97.46" width="0.9" height="1" fill="#666"/>
<text x="638.4" y="102.46" font-size="12.2" text-anchor="start" font-weight="bold" font-style="normal" >RIL-3</text>
<rect x="613.0" y="115.18" width="16.30" height="8" fill="#000"/>
<rect x="615.2" y="118.08" width="11.90" height="2.20" fill="#fff"/>
<text x="638.4" y="123.68" font-size="12.2" text-anchor="start" font-weight="bold" font-style="normal" >RIL-4</text>
<rect x="613.0" y="136.40" width="16.30" height="8" fill="#000"/>
<rect x="615.2" y="138.50" width="11.90" height="3.80" fill="#fff"/>
<text x="638.4" y="144.90" font-size="12.2" text-anchor="start" font-weight="bold" font-style="normal" >WVa700</text>
<rect x="70.4" y="258.5" width="2.2" height="156.90" fill="#000"/>
<rect x="70.4" y="413.2" width="234.60" height="2.2" fill="#000"/>
<rect x="66.7" y="413.20" width="5" height="2.2" fill="#000"/>
<text x="65.4" y="419.10" font-size="12.5" text-anchor="end" font-weight="bold" font-style="normal" >0</text>
<rect x="66.7" y="374.45" width="5" height="2.2" fill="#000"/>
<text x="65.4" y="380.35" font-size="12.5" text-anchor="end" font-weight="bold" font-style="normal" >2</text>
<rect x="66.7" y="335.70" width="5" height="2.2" fill="#000"/>
<text x="65.4" y="341.60" font-size="12.5" text-anchor="end" font-weight="bold" font-style="normal" >4</text>
<rect x="66.7" y="296.95" width="5" height="2.2" fill="#000"/>
<text x="65.4" y="302.85" font-size="12.5" text-anchor="end" font-weight="bold" font-style="normal" >6</text>
<rect x="66.7" y="258.20" width="5" height="2.2" fill="#000"/>
<text x="65.4" y="264.10" font-size="12.5" text-anchor="end" font-weight="bold" font-style="normal" >8</text>
<rect x="99.4" y="414.3" width="2.2" height="4.9" fill="#000"/>
<text x="100.5" y="433" font-size="12.5" text-anchor="middle" font-weight="bold" font-style="normal" >0</text>
<rect x="157.65" y="414.3" width="2.2" height="4.9" fill="#000"/>
<text x="158.75" y="433" font-size="12.5" text-anchor="middle" font-weight="bold" font-style="normal" >0.25</text>
<rect x="215.65" y="414.3" width="2.2" height="4.9" fill="#000"/>
<text x="216.75" y="433" font-size="12.5" text-anchor="middle" font-weight="bold" font-style="normal" >0.5</text>
<rect x="273.9" y="414.3" width="2.2" height="4.9" fill="#000"/>
<text x="275" y="433" font-size="12.5" text-anchor="middle" font-weight="bold" font-style="normal" >1</text>
<text x="188.5" y="450" font-size="12.75" text-anchor="middle" font-weight="bold" font-style="normal" >Hours post inoculation</text>
<text transform="translate(17.5,335.9) rotate(-90)" font-size="12.7" font-weight="bold" text-anchor="middle">Relative normalized</text>
<text transform="translate(33.2,335.9) rotate(-90)" font-size="12.7" font-weight="bold" text-anchor="middle">expression</text>
<text transform="translate(49.2,335.9) rotate(-90)" font-size="12.7" font-weight="bold" font-style="italic" text-anchor="middle">(SlPTI5/<tspan dx="1.6">SlEF1α)</tspan></text>
<rect x="80.90" y="392.35" width="1.8" height="3.45" fill="#000"/>
<rect x="79.55" y="392.35" width="4.5" height="2.0" fill="#000"/>
<rect x="77.65" y="394.80" width="8.30" height="19.50" fill="#000"/>
<text x="81.80000000000001" y="390" font-size="12.5" text-anchor="middle" font-weight="bold" font-style="normal" >cd</text>
<rect x="93.40" y="390.35" width="1.8" height="3.70" fill="#000"/>
<rect x="92.05" y="390.35" width="4.5" height="2.0" fill="#000"/>
<rect x="90.15" y="393.05" width="8.30" height="21.25" fill="#000"/>
<clipPath id="c9"><rect x="92.35" y="395.25" width="3.90" height="19.05"/></clipPath>
<g clip-path="url(#c9)">
<rect x="92.35" y="407.55" width="3.6" height="1.0" fill="#f4f4f4"/>
<rect x="92.35" y="408.50" width="0.95" height="1.5" fill="#e0e0e0"/>
<rect x="95.05" y="408.50" width="0.9" height="1.3" fill="#bbb"/>
<rect x="92.35" y="404.44" width="3.6" height="1.0" fill="#f4f4f4"/>
<rect x="92.35" y="405.39" width="0.95" height="1.5" fill="#e0e0e0"/>
<rect x="95.05" y="405.39" width="0.9" height="1.3" fill="#bbb"/>
<rect x="92.35" y="401.33" width="3.6" height="1.0" fill="#f4f4f4"/>
<rect x="92.35" y="402.28" width="0.95" height="1.5" fill="#e0e0e0"/>
<rect x="95.05" y="402.28" width="0.9" height="1.3" fill="#bbb"/>
<rect x="92.35" y="398.22" width="3.6" height="1.0" fill="#f4f4f4"/>
<rect x="92.35" y="399.17" width="0.95" height="1.5" fill="#e0e0e0"/>
<rect x="95.05" y="399.17" width="0.9" height="1.3" fill="#bbb"/>
<rect x="92.35" y="395.11" width="3.6" height="1.0" fill="#f4f4f4"/>
<rect x="92.35" y="396.06" width="0.95" height="1.5" fill="#e0e0e0"/>
<rect x="95.05" y="396.06" width="0.9" height="1.3" fill="#bbb"/>
</g>
<text x="94.30000000000001" y="386.25" font-size="12.5" text-anchor="middle" font-weight="bold" font-style="normal" >cd</text>
<rect x="106.00" y="406.15" width="1.8" height="4.15" fill="#000"/>
<rect x="104.65" y="406.15" width="4.5" height="2.0" fill="#000"/>
<rect x="102.75" y="409.30" width="8.30" height="5.00" fill="#000"/>
<clipPath id="c10"><rect x="104.95" y="411.50" width="3.90" height="2.80"/></clipPath>
<g clip-path="url(#c10)">
<path d="M105.00 411.30 L107.40 412.60 L105.00 413.90 L102.60 412.60Z" fill="#fff"/>
</g>
<text x="106.9" y="401.75" font-size="12.5" text-anchor="middle" font-weight="bold" font-style="normal" >de</text>
<rect x="118.50" y="392.90" width="1.8" height="7.40" fill="#000"/>
<rect x="117.15" y="392.90" width="4.5" height="2.0" fill="#000"/>
<rect x="115.25" y="399.30" width="8.30" height="15.00" fill="#000"/>
<rect x="117.45" y="401.50" width="3.90" height="12.80" fill="#fff"/>
<text x="119.4" y="388.25" font-size="12.5" text-anchor="middle" font-weight="bold" font-style="normal" >cd</text>
<rect x="139.10" y="297.15" width="1.8" height="10.65" fill="#000"/>
<rect x="137.75" y="297.15" width="4.5" height="2.0" fill="#000"/>
<rect x="135.85" y="306.80" width="8.30" height="107.50" fill="#000"/>
<text x="140.0" y="293.75" font-size="12.5" text-anchor="middle" font-weight="bold" font-style="normal" >a</text>
<rect x="151.60" y="328.85" width="1.8" height="12.45" fill="#000"/>
<rect x="150.25" y="328.85" width="4.5" height="2.0" fill="#000"/>
<rect x="148.35" y="340.30" width="8.30" height="74.00" fill="#000"/>
<clipPath id="c11"><rect x="150.55" y="342.50" width="3.90" height="71.80"/></clipPath>
<g clip-path="url(#c11)">
<rect x="150.55" y="407.55" width="3.6" height="1.0" fill="#f4f4f4"/>
<rect x="150.55" y="408.50" width="0.95" height="1.5" fill="#e0e0e0"/>
<rect x="153.25" y="408.50" width="0.9" height="1.3" fill="#bbb"/>
<rect x="150.55" y="404.44" width="3.6" height="1.0" fill="#f4f4f4"/>
<rect x="150.55" y="405.39" width="0.95" height="1.5" fill="#e0e0e0"/>
<rect x="153.25" y="405.39" width="0.9" height="1.3" fill="#bbb"/>
<rect x="150.55" y="401.33" width="3.6" height="1.0" fill="#f4f4f4"/>
<rect x="150.55" y="402.28" width="0.95" height="1.5" fill="#e0e0e0"/>
<rect x="153.25" y="402.28" width="0.9" height="1.3" fill="#bbb"/>
<rect x="150.55" y="398.22" width="3.6" height="1.0" fill="#f4f4f4"/>
<rect x="150.55" y="399.17" width="0.95" height="1.5" fill="#e0e0e0"/>
<rect x="153.25" y="399.17" width="0.9" height="1.3" fill="#bbb"/>
<rect x="150.55" y="395.11" width="3.6" height="1.0" fill="#f4f4f4"/>
<rect x="150.55" y="396.06" width="0.95" height="1.5" fill="#e0e0e0"/>
<rect x="153.25" y="396.06" width="0.9" height="1.3" fill="#bbb"/>
<rect x="150.55" y="392.00" width="3.6" height="1.0" fill="#f4f4f4"/>
<rect x="150.55" y="392.95" width="0.95" height="1.5" fill="#e0e0e0"/>
<rect x="153.25" y="392.95" width="0.9" height="1.3" fill="#bbb"/>
<rect x="150.55" y="388.89" width="3.6" height="1.0" fill="#f4f4f4"/>
<rect x="150.55" y="389.84" width="0.95" height="1.5" fill="#e0e0e0"/>
<rect x="153.25" y="389.84" width="0.9" height="1.3" fill="#bbb"/>
<rect x="150.55" y="385.78" width="3.6" height="1.0" fill="#f4f4f4"/>
<rect x="150.55" y="386.73" width="0.95" height="1.5" fill="#e0e0e0"/>
<rect x="153.25" y="386.73" width="0.9" height="1.3" fill="#bbb"/>
<rect x="150.55" y="382.67" width="3.6" height="1.0" fill="#f4f4f4"/>
<rect x="150.55" y="383.62" width="0.95" height="1.5" fill="#e0e0e0"/>
<rect x="153.25" y="383.62" width="0.9" height="1.3" fill="#bbb"/>
<rect x="150.55" y="379.56" width="3.6" height="1.0" fill="#f4f4f4"/>
<rect x="150.55" y="380.51" width="0.95" height="1.5" fill="#e0e0e0"/>
<rect x="153.25" y="380.51" width="0.9" height="1.3" fill="#bbb"/>
<rect x="150.55" y="376.45" width="3.6" height="1.0" fill="#f4f4f4"/>
<rect x="150.55" y="377.40" width="0.95" height="1.5" fill="#e0e0e0"/>
<rect x="153.25" y="377.40" width="0.9" height="1.3" fill="#bbb"/>
<rect x="150.55" y="373.34" width="3.6" height="1.0" fill="#f4f4f4"/>
<rect x="150.55" y="374.29" width="0.95" height="1.5" fill="#e0e0e0"/>
<rect x="153.25" y="374.29" width="0.9" height="1.3" fill="#bbb"/>
<rect x="150.55" y="370.23" width="3.6" height="1.0" fill="#f4f4f4"/>
<rect x="150.55" y="371.18" width="0.95" height="1.5" fill="#e0e0e0"/>
<rect x="153.25" y="371.18" width="0.9" height="1.3" fill="#bbb"/>
<rect x="150.55" y="367.12" width="3.6" height="1.0" fill="#f4f4f4"/>
<rect x="150.55" y="368.07" width="0.95" height="1.5" fill="#e0e0e0"/>
<rect x="153.25" y="368.07" width="0.9" height="1.3" fill="#bbb"/>
<rect x="150.55" y="364.01" width="3.6" height="1.0" fill="#f4f4f4"/>
<rect x="150.55" y="364.96" width="0.95" height="1.5" fill="#e0e0e0"/>
<rect x="153.25" y="364.96" width="0.9" height="1.3" fill="#bbb"/>
<rect x="150.55" y="360.90" width="3.6" height="1.0" fill="#f4f4f4"/>
<rect x="150.55" y="361.85" width="0.95" height="1.5" fill="#e0e0e0"/>
<rect x="153.25" y="361.85" width="0.9" height="1.3" fill="#bbb"/>
<rect x="150.55" y="357.79" width="3.6" height="1.0" fill="#f4f4f4"/>
<rect x="150.55" y="358.74" width="0.95" height="1.5" fill="#e0e0e0"/>
<rect x="153.25" y="358.74" width="0.9" height="1.3" fill="#bbb"/>
<rect x="150.55" y="354.68" width="3.6" height="1.0" fill="#f4f4f4"/>
<rect x="150.55" y="355.63" width="0.95" height="1.5" fill="#e0e0e0"/>
<rect x="153.25" y="355.63" width="0.9" height="1.3" fill="#bbb"/>
<rect x="150.55" y="351.57" width="3.6" height="1.0" fill="#f4f4f4"/>
<rect x="150.55" y="352.52" width="0.95" height="1.5" fill="#e0e0e0"/>
<rect x="153.25" y="352.52" width="0.9" height="1.3" fill="#bbb"/>
<rect x="150.55" y="348.46" width="3.6" height="1.0" fill="#f4f4f4"/>
<rect x="150.55" y="349.41" width="0.95" height="1.5" fill="#e0e0e0"/>
<rect x="153.25" y="349.41" width="0.9" height="1.3" fill="#bbb"/>
<rect x="150.55" y="345.35" width="3.6" height="1.0" fill="#f4f4f4"/>
<rect x="150.55" y="346.30" width="0.95" height="1.5" fill="#e0e0e0"/>
<rect x="153.25" y="346.30" width="0.9" height="1.3" fill="#bbb"/>
<rect x="150.55" y="342.24" width="3.6" height="1.0" fill="#f4f4f4"/>
<rect x="150.55" y="343.19" width="0.95" height="1.5" fill="#e0e0e0"/>
<rect x="153.25" y="343.19" width="0.9" height="1.3" fill="#bbb"/>
</g>
<text x="152.5" y="324.6" font-size="12.5" text-anchor="middle" font-weight="bold" font-style="normal" >b</text>
<rect x="164.00" y="398.40" width="1.8" height="6.40" fill="#000"/>
<rect x="162.65" y="398.40" width="4.5" height="2.0" fill="#000"/>
<rect x="160.75" y="403.80" width="8.30" height="10.50" fill="#000"/>
<clipPath id="c12"><rect x="162.95" y="406.00" width="3.90" height="8.30"/></clipPath>
<g clip-path="url(#c12)">
<path d="M164.90 402.90 L167.00 405.50 L164.90 408.10 L162.80 405.50Z" fill="#fff"/>
<path d="M164.90 411.30 L167.00 414.00 L164.90 416.70 L162.80 414.00Z" fill="#fff"/>
</g>
<text x="164.9" y="395" font-size="12.5" text-anchor="middle" font-weight="bold" font-style="normal" >d</text>
<rect x="176.40" y="367.90" width="1.8" height="15.90" fill="#000"/>
<rect x="175.05" y="367.90" width="4.5" height="2.0" fill="#000"/>
<rect x="173.15" y="382.80" width="8.30" height="31.50" fill="#000"/>
<rect x="175.35" y="385.00" width="3.90" height="29.30" fill="#fff"/>
<text x="177.3" y="363.8" font-size="12.5" text-anchor="middle" font-weight="bold" font-style="normal" >cd</text>
<rect x="197.15" y="337.25" width="1.8" height="14.55" fill="#000"/>
<rect x="195.80" y="337.25" width="4.5" height="2.0" fill="#000"/>
<rect x="193.90" y="350.80" width="8.30" height="63.50" fill="#000"/>
<text x="198.05" y="332.5" font-size="12.5" text-anchor="middle" font-weight="bold" font-style="normal" >b</text>
<rect x="209.40" y="354.15" width="1.8" height="12.65" fill="#000"/>
<rect x="208.05" y="354.15" width="4.5" height="2.0" fill="#000"/>
<rect x="206.15" y="365.80" width="8.30" height="48.50" fill="#000"/>
<clipPath id="c13"><rect x="208.35" y="368.00" width="3.90" height="46.30"/></clipPath>
<g clip-path="url(#c13)">
<rect x="208.35" y="407.55" width="3.6" height="1.0" fill="#f4f4f4"/>
<rect x="208.35" y="408.50" width="0.95" height="1.5" fill="#e0e0e0"/>
<rect x="211.05" y="408.50" width="0.9" height="1.3" fill="#bbb"/>
<rect x="208.35" y="404.44" width="3.6" height="1.0" fill="#f4f4f4"/>
<rect x="208.35" y="405.39" width="0.95" height="1.5" fill="#e0e0e0"/>
<rect x="211.05" y="405.39" width="0.9" height="1.3" fill="#bbb"/>
<rect x="208.35" y="401.33" width="3.6" height="1.0" fill="#f4f4f4"/>
<rect x="208.35" y="402.28" width="0.95" height="1.5" fill="#e0e0e0"/>
<rect x="211.05" y="402.28" width="0.9" height="1.3" fill="#bbb"/>
<rect x="208.35" y="398.22" width="3.6" height="1.0" fill="#f4f4f4"/>
<rect x="208.35" y="399.17" width="0.95" height="1.5" fill="#e0e0e0"/>
<rect x="211.05" y="399.17" width="0.9" height="1.3" fill="#bbb"/>
<rect x="208.35" y="395.11" width="3.6" height="1.0" fill="#f4f4f4"/>
<rect x="208.35" y="396.06" width="0.95" height="1.5" fill="#e0e0e0"/>
<rect x="211.05" y="396.06" width="0.9" height="1.3" fill="#bbb"/>
<rect x="208.35" y="392.00" width="3.6" height="1.0" fill="#f4f4f4"/>
<rect x="208.35" y="392.95" width="0.95" height="1.5" fill="#e0e0e0"/>
<rect x="211.05" y="392.95" width="0.9" height="1.3" fill="#bbb"/>
<rect x="208.35" y="388.89" width="3.6" height="1.0" fill="#f4f4f4"/>
<rect x="208.35" y="389.84" width="0.95" height="1.5" fill="#e0e0e0"/>
<rect x="211.05" y="389.84" width="0.9" height="1.3" fill="#bbb"/>
<rect x="208.35" y="385.78" width="3.6" height="1.0" fill="#f4f4f4"/>
<rect x="208.35" y="386.73" width="0.95" height="1.5" fill="#e0e0e0"/>
<rect x="211.05" y="386.73" width="0.9" height="1.3" fill="#bbb"/>
<rect x="208.35" y="382.67" width="3.6" height="1.0" fill="#f4f4f4"/>
<rect x="208.35" y="383.62" width="0.95" height="1.5" fill="#e0e0e0"/>
<rect x="211.05" y="383.62" width="0.9" height="1.3" fill="#bbb"/>
<rect x="208.35" y="379.56" width="3.6" height="1.0" fill="#f4f4f4"/>
<rect x="208.35" y="380.51" width="0.95" height="1.5" fill="#e0e0e0"/>
<rect x="211.05" y="380.51" width="0.9" height="1.3" fill="#bbb"/>
<rect x="208.35" y="376.45" width="3.6" height="1.0" fill="#f4f4f4"/>
<rect x="208.35" y="377.40" width="0.95" height="1.5" fill="#e0e0e0"/>
<rect x="211.05" y="377.40" width="0.9" height="1.3" fill="#bbb"/>
<rect x="208.35" y="373.34" width="3.6" height="1.0" fill="#f4f4f4"/>
<rect x="208.35" y="374.29" width="0.95" height="1.5" fill="#e0e0e0"/>
<rect x="211.05" y="374.29" width="0.9" height="1.3" fill="#bbb"/>
<rect x="208.35" y="370.23" width="3.6" height="1.0" fill="#f4f4f4"/>
<rect x="208.35" y="371.18" width="0.95" height="1.5" fill="#e0e0e0"/>
<rect x="211.05" y="371.18" width="0.9" height="1.3" fill="#bbb"/>
<rect x="208.35" y="367.12" width="3.6" height="1.0" fill="#f4f4f4"/>
<rect x="208.35" y="368.07" width="0.95" height="1.5" fill="#e0e0e0"/>
<rect x="211.05" y="368.07" width="0.9" height="1.3" fill="#bbb"/>
</g>
<text x="210.3" y="350" font-size="12.5" text-anchor="middle" font-weight="bold" font-style="normal" >bc</text>
<rect x="221.90" y="399.90" width="1.8" height="4.15" fill="#000"/>
<rect x="220.55" y="399.90" width="4.5" height="2.0" fill="#000"/>
<rect x="218.65" y="403.05" width="8.30" height="11.25" fill="#000"/>
<clipPath id="c14"><rect x="220.85" y="405.25" width="3.90" height="9.05"/></clipPath>
<g clip-path="url(#c14)">
<path d="M222.80 402.15 L224.90 404.75 L222.80 407.35 L220.70 404.75Z" fill="#fff"/>
<path d="M222.80 411.30 L224.90 414.00 L222.80 416.70 L220.70 414.00Z" fill="#fff"/>
</g>
<text x="222.8" y="395.5" font-size="12.5" text-anchor="middle" font-weight="bold" font-style="normal" >d</text>
<rect x="234.40" y="401.65" width="1.8" height="4.15" fill="#000"/>
<rect x="233.05" y="401.65" width="4.5" height="2.0" fill="#000"/>
<rect x="231.15" y="404.80" width="8.30" height="9.50" fill="#000"/>
<rect x="233.35" y="407.00" width="3.90" height="7.30" fill="#fff"/>
<text x="235.3" y="396.5" font-size="12.5" text-anchor="middle" font-weight="bold" font-style="normal" >d</text>
<rect x="254.90" y="399.90" width="1.8" height="5.40" fill="#000"/>
<rect x="253.55" y="399.90" width="4.5" height="2.0" fill="#000"/>
<rect x="251.65" y="404.30" width="8.30" height="10.00" fill="#000"/>
<text x="255.8" y="395.5" font-size="12.5" text-anchor="middle" font-weight="bold" font-style="normal" >d</text>
<rect x="267.40" y="397.90" width="1.8" height="5.40" fill="#000"/>
<rect x="266.05" y="397.90" width="4.5" height="2.0" fill="#000"/>
<rect x="264.15" y="402.30" width="8.30" height="12.00" fill="#000"/>
<clipPath id="c15"><rect x="266.35" y="404.50" width="3.90" height="9.80"/></clipPath>
<g clip-path="url(#c15)">
<rect x="266.35" y="407.55" width="3.6" height="1.0" fill="#f4f4f4"/>
<rect x="266.35" y="408.50" width="0.95" height="1.5" fill="#e0e0e0"/>
<rect x="269.05" y="408.50" width="0.9" height="1.3" fill="#bbb"/>
<rect x="266.35" y="404.44" width="3.6" height="1.0" fill="#f4f4f4"/>
<rect x="266.35" y="405.39" width="0.95" height="1.5" fill="#e0e0e0"/>
<rect x="269.05" y="405.39" width="0.9" height="1.3" fill="#bbb"/>
</g>
<text x="268.29999999999995" y="393.75" font-size="12.5" text-anchor="middle" font-weight="bold" font-style="normal" >d</text>
<rect x="279.90" y="373.65" width="1.8" height="9.15" fill="#000"/>
<rect x="278.55" y="373.65" width="4.5" height="2.0" fill="#000"/>
<rect x="276.65" y="381.80" width="8.30" height="32.50" fill="#000"/>
<clipPath id="c16"><rect x="278.85" y="384.00" width="3.90" height="30.30"/></clipPath>
<g clip-path="url(#c16)">
<path d="M280.80 411.90 L282.60 413.90 L280.80 415.90 L279.00 413.90Z" fill="#fff"/>
<path d="M280.80 404.30 L282.60 406.30 L280.80 408.30 L279.00 406.30Z" fill="#fff"/>
<path d="M280.80 396.70 L282.60 398.70 L280.80 400.70 L279.00 398.70Z" fill="#fff"/>
<path d="M280.80 389.10 L282.60 391.10 L280.80 393.10 L279.00 391.10Z" fill="#fff"/>
<path d="M280.80 381.50 L282.60 383.50 L280.80 385.50 L279.00 383.50Z" fill="#fff"/>
</g>
<text x="280.79999999999995" y="369.5" font-size="12.5" text-anchor="middle" font-weight="bold" font-style="normal" >c</text>
<rect x="292.40" y="408.05" width="1.8" height="2.85" fill="#000"/>
<rect x="291.05" y="408.05" width="4.5" height="2.0" fill="#000"/>
<rect x="289.15" y="409.90" width="8.30" height="4.40" fill="#000"/>
<rect x="291.35" y="412.10" width="3.90" height="2.20" fill="#fff"/>
<text x="293.29999999999995" y="404.7" font-size="12.5" text-anchor="middle" font-weight="bold" font-style="normal" >e</text>
<rect x="235.6" y="261.00" width="16.70" height="8" fill="#000"/>
<text x="262.0" y="269.50" font-size="12.5" text-anchor="start" font-weight="bold" font-style="normal" >H7996</text>
<rect x="235.6" y="278.90" width="16.70" height="8" fill="#000"/>
<rect x="238.2" y="282.40" width="11.5" height="1" fill="#999"/>
<rect x="241" y="281.70" width="0.8" height="2.4" fill="#aaa"/><rect x="246.5" y="281.70" width="0.8" height="2.4" fill="#aaa"/>
<text x="262.0" y="287.40" font-size="12.5" text-anchor="start" font-weight="bold" font-style="normal" >RIL-2</text>
<rect x="235.6" y="296.80" width="16.70" height="8" fill="#000"/>
<path d="M245.30 299.00 L247.10 300.80 L245.30 302.60 L243.50 300.80Z" fill="#fff"/>
<path d="M237.9 299.10 L239.9 300.80 L237.9 302.50Z" fill="#fff"/>
<text x="262.0" y="305.30" font-size="12.5" text-anchor="start" font-weight="bold" font-style="normal" >RIL-4</text>
<rect x="235.6" y="314.70" width="16.70" height="8" fill="#000"/>
<rect x="237.79999999999998" y="316.80" width="12.30" height="3.8" fill="#fff"/>
<text x="262.0" y="323.20" font-size="12.5" text-anchor="start" font-weight="bold" font-style="normal" >WVa700</text>
</g></svg>
</body></html>
